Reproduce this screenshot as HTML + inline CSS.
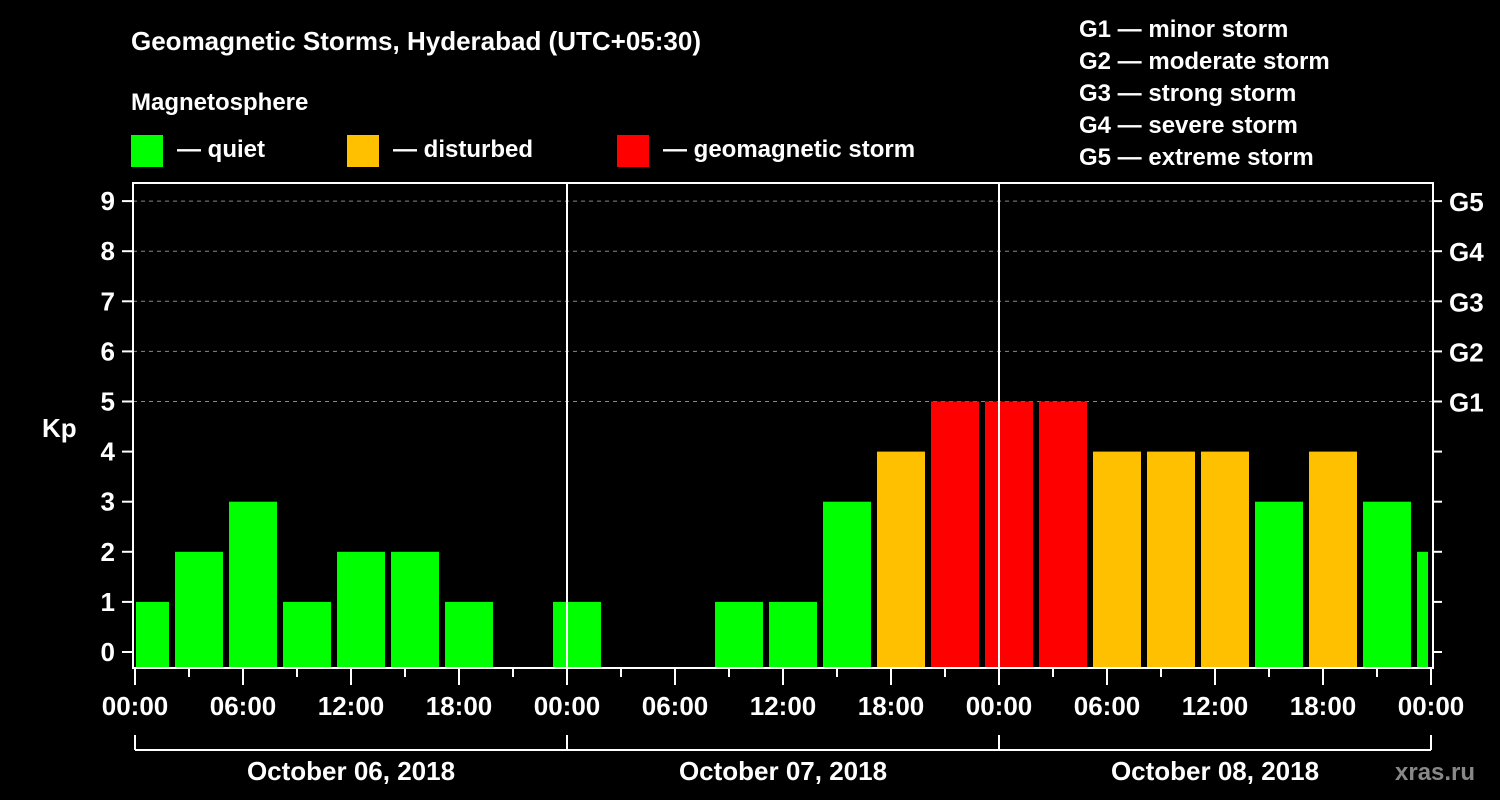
<!DOCTYPE html>
<html><head><meta charset="utf-8"><style>
body{margin:0;background:#000;}
svg{display:block;font-family:"Liberation Sans",Arial,sans-serif;font-weight:bold;}
</style></head><body>
<svg id="chart" width="1500" height="800" viewBox="0 0 1500 800">
<rect width="1500" height="800" fill="#000"/>
<text x="131" y="50" fill="#fff" font-size="26">Geomagnetic Storms, Hyderabad (UTC+05:30)</text>
<text x="131" y="110" fill="#fff" font-size="24">Magnetosphere</text>
<g><rect x="131" y="135" width="32" height="32" fill="#00ff00"/><text x="177" y="157" fill="#fff" font-size="24">— quiet</text></g>
<g><rect x="347" y="135" width="32" height="32" fill="#ffc000"/><text x="393" y="157" fill="#fff" font-size="24">— disturbed</text></g>
<g><rect x="617" y="135" width="32" height="32" fill="#ff0000"/><text x="663" y="157" fill="#fff" font-size="24">— geomagnetic storm</text></g>
<g fill="#fff" font-size="24">
<text x="1079" y="37">G1 — minor storm</text>
<text x="1079" y="69">G2 — moderate storm</text>
<text x="1079" y="101">G3 — strong storm</text>
<text x="1079" y="133">G4 — severe storm</text>
<text x="1079" y="165">G5 — extreme storm</text>
</g>
<text x="42" y="437" fill="#fff" font-size="26">Kp</text>
<text x="1395" y="780" fill="#888" font-size="24">xras.ru</text>
<g id="grid"></g><g id="bars"></g><g id="axes"></g>
</svg>
<script>
const kpValues=[1,2,3,1,2,2,1,0,1,0,0,1,1,3,4,5,5,5,4,4,4,3,4,3,2];
const yTicks=[0,1,2,3,4,5,6,7,8,9];
const gLabels=["G1","G2","G3","G4","G5"];
const xTickLabels=["00:00","06:00","12:00","18:00","00:00","06:00","12:00","18:00","00:00","06:00","12:00","18:00","00:00"];
const dayLabels=["October 06, 2018","October 07, 2018","October 08, 2018"];
const firstBarHour=-0.833; // bar start offset in hours (UTC+05:30 shift)
const NS="http://www.w3.org/2000/svg";
const L=133,R=1433,T=183,B=668,X0=135,PXH=18;
const y=v=>652-v*50.1;
const x=h=>X0+h*PXH;
function el(tag,attrs,parent){const e=document.createElementNS(NS,tag);for(const k in attrs)e.setAttribute(k,attrs[k]);parent.appendChild(e);return e;}
const grid=document.getElementById('grid'),bars=document.getElementById('bars'),axes=document.getElementById('axes');
for(let v=5;v<=9;v++){const g=el('line',{x1:L,x2:R,y1:y(v),y2:y(v),stroke:'#888','stroke-dasharray':'4,4','stroke-width':1},grid);

}
kpValues.forEach((v,i)=>{if(v<=0)return;
let x1=x(firstBarHour+i*3)+1,x2=x1+48;x1=Math.max(x1,L+3);x2=Math.min(x2,R-5);
const r=el('rect',{x:x1,y:y(v),width:x2-x1,height:667-y(v),fill:v>=5?'#ff0000':v>=4?'#ffc000':'#00ff00'},bars);

});
[567,999].forEach((px,i)=>{const d=el('line',{x1:px,x2:px,y1:T,y2:B,stroke:'#fff','stroke-width':2},axes);

});
const frame=el('rect',{x:L,y:T,width:R-L,height:B-T,fill:'none',stroke:'#fff','stroke-width':2},axes);


yTicks.forEach(v=>{el('line',{x1:L-11,x2:L,y1:y(v),y2:y(v),stroke:'#fff','stroke-width':2},axes);
el('line',{x1:R,x2:R+9,y1:y(v),y2:y(v),stroke:'#fff','stroke-width':2},axes);
const t=el('text',{x:L-18,y:y(v)+9,fill:'#fff','font-size':26,'text-anchor':'end'},axes);t.textContent=v;

});
gLabels.forEach((g,i)=>{const t=el('text',{x:1449,y:y(5+i)+10,fill:'#fff','font-size':26},axes);t.textContent=g;

});
for(let h=0;h<=72;h+=3){const long=h%6===0;el('line',{x1:x(h),x2:x(h),y1:B,y2:long?B+17:B+9,stroke:'#fff','stroke-width':2},axes);}
xTickLabels.forEach((s,i)=>{const t=el('text',{x:x(i*6),y:715,fill:'#fff','font-size':26,'text-anchor':'middle'},axes);t.textContent=s;

});
el('line',{x1:x(0),x2:x(72),y1:750,y2:750,stroke:'#fff','stroke-width':2},axes);
for(let d=0;d<=3;d++)el('line',{x1:x(d*24),x2:x(d*24),y1:735,y2:750,stroke:'#fff','stroke-width':2},axes);
dayLabels.forEach((s,i)=>{const t=el('text',{x:x(i*24+12),y:780,fill:'#fff','font-size':26,'text-anchor':'middle'},axes);t.textContent=s;

});
</script>
</body></html>
